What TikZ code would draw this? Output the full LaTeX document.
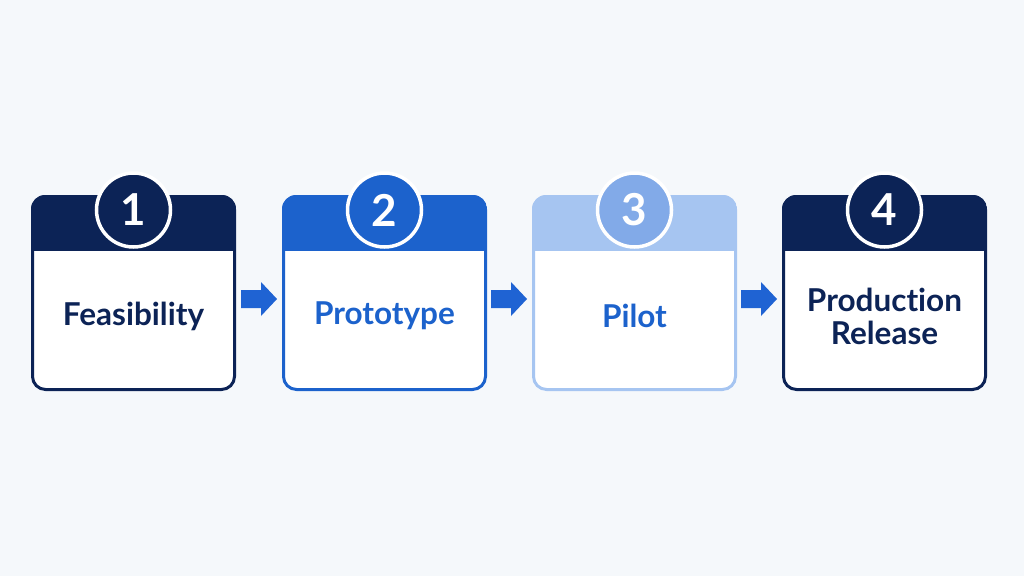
\documentclass[tikz,border=0pt]{standalone}
\usepackage{fontspec}
\setmainfont{Lato}[Ligatures={NoCommon,NoRare,NoDiscretionary}]
\definecolor{bg}{HTML}{F5F8FB}
\definecolor{navy}{HTML}{0C2356}
\definecolor{blue}{HTML}{1C62CC}
\definecolor{lhead}{HTML}{A6C5F1}
\definecolor{lcirc}{HTML}{82AAE8}
\definecolor{arrowc}{HTML}{1F63D3}
\begin{document}
\begin{tikzpicture}[x=1pt,y=-1pt,
  lbl/.style={font=\bfseries\fontsize{31.5}{33}\selectfont, align=center},
  num/.style={font=\bfseries\fontsize{44}{44}\selectfont, text=white},
  flow/.style={fill=arrowc}]
\fill[bg] (0,0) rectangle (1024,576);
\useasboundingbox (0,0) rectangle (1024,576);
\foreach \i/\x/\hc/\bc/\cc/\tc/\txt in {
  1/31/navy/navy/navy/navy/Feasibility,
  2/282/blue/blue/blue/blue/Prototype,
  3/532/lhead/lhead/lcirc/blue/Pilot,
  4/782/navy/navy/navy/navy/{Production\\Release}}{
  \fill[white, rounded corners=14pt] (\x,195) rectangle ++(205,196);
  \begin{scope}
    \clip[rounded corners=14pt] (\x,195) rectangle ++(205,196);
    \fill[\hc] (\x,195) rectangle ++(205,56);
  \end{scope}
  \draw[\bc, line width=3pt, rounded corners=13pt] (\x+1.5,196.5) rectangle ++(202,193);
  \node[circle, fill=\cc, draw=white, line width=3.5pt, minimum size=74pt, inner sep=0pt] (c\i) at (\x+102.5,210) {};
  \node[num] at (c\i) {\i};
  \node[lbl, text=\tc] (t\i) at (\x+102.5,316) {\txt};
}
\coordinate (a1) at (241,299);
\coordinate (a2) at (491,299);
\coordinate (a3) at (741,299);
\foreach \a in {a1,a2,a3}{
  \fill[flow] ([yshift=9pt]\a) -- ++(20,0) -- ++(0,-8) -- ++(16,17) -- ++(-16,17) -- ++(0,-8) -- ++(-20,0) -- cycle;
}
\end{tikzpicture}
\end{document}
